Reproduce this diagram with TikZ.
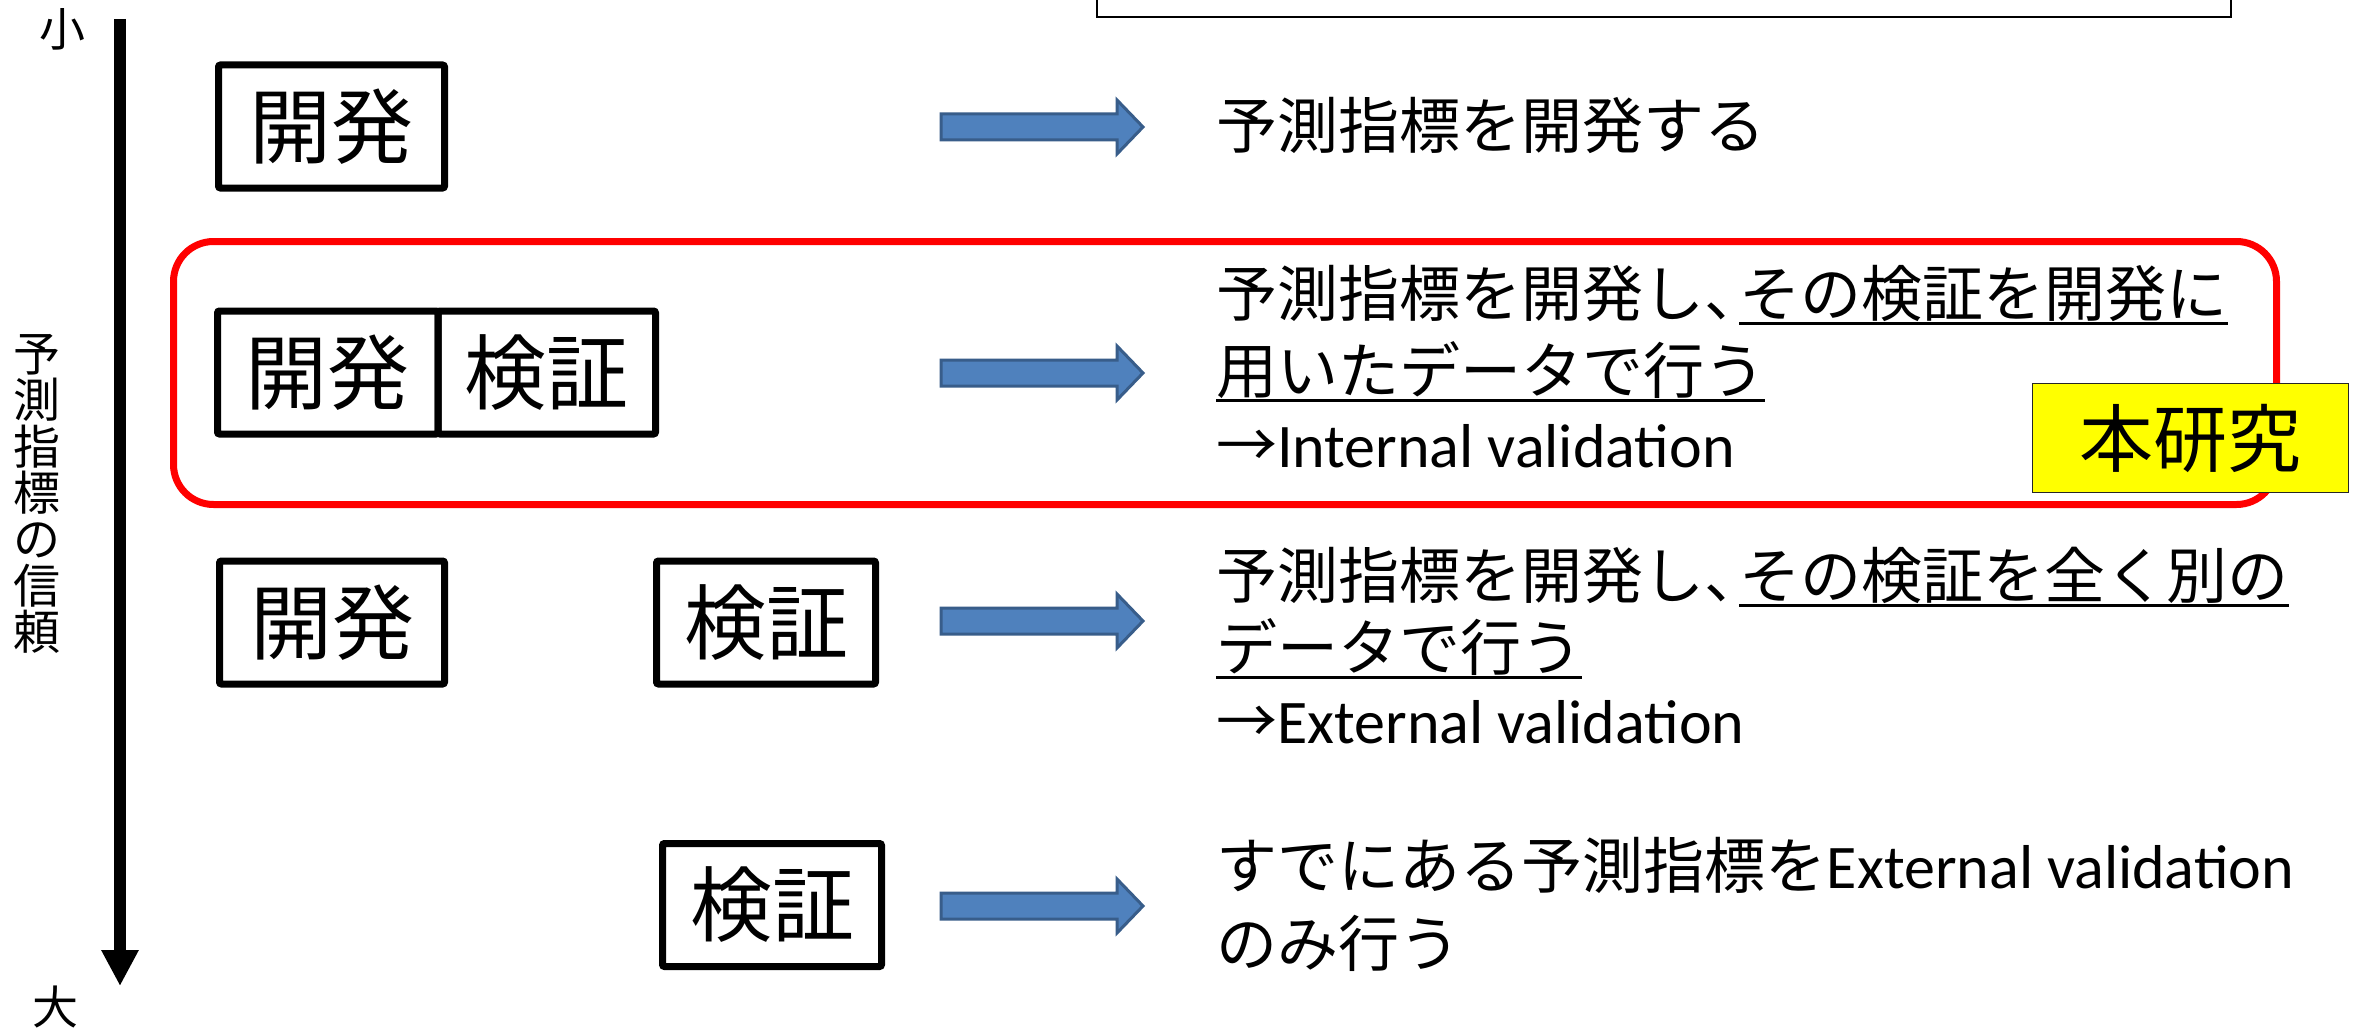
\documentclass[tikz,border=0pt]{standalone}
\usepackage{fontspec}
\setmainfont{Carlito}
\newfontfamily\jp{Noto Sans CJK JP}
\usetikzlibrary{arrows.meta}
\definecolor{arrowfill}{HTML}{4F81BD}
\definecolor{arrowline}{HTML}{385D8A}
\definecolor{redframe}{HTML}{FF0000}
\definecolor{hl}{HTML}{FFFF00}
\newcommand{\jpcomma}{、\kern-26pt}
\begin{document}
\begin{tikzpicture}[x=1pt,y=-1pt,
  stagebox/.style={draw=black, line width=7pt, rounded corners=2pt, inner sep=0pt,
    minimum height=123pt, font=\jp\fontsize{82}{90}\selectfont},
  desc/.style={inner sep=0pt, anchor=base west, font=\jp\fontsize{61}{72}\selectfont},
  latin/.style={inner sep=0pt, anchor=base west, font=\fontsize{62}{72}\selectfont},
  uline/.style={line width=3pt},
  axislabel/.style={inner sep=0pt, font=\jp\fontsize{46}{50}\selectfont},
  blockarrow/.pic={\filldraw[fill=arrowfill, draw=arrowline, line width=3pt, line join=miter]
    (0,-13) -- (176,-13) -- (176,-27) -- (202,0) -- (176,27) -- (176,13) -- (0,13) -- cycle;},
]
\useasboundingbox[fill=white] (0,0) rectangle (2359,1030);

% partial frame at top
\draw[line width=2.5pt] (1097,-20) rectangle (2231,17);

% axis
\coordinate (axtop) at (120,19);
\coordinate (axbot) at (120,986);
\draw[line width=12pt, -{Triangle[length=36pt,width=35pt]}] (axtop) -- (axbot);
\node[axislabel] (small) at (62,29) {小};
\node[axislabel] (large) at (55,1007) {大};
\node[inner sep=0pt, align=center, font=\jp\fontsize{47}{46.4}\selectfont] (ylab) at (37,494) {予\\測\\指\\標\\の\\信\\頼};

% red frame
\draw[draw=redframe, line width=7pt, rounded corners=40pt] (173.5,241.5) rectangle (2276.5,504.5);

% stage boxes
\node[stagebox, minimum width=226pt] (b1) at (331.5,126.5) {開発};
\node[stagebox, minimum width=220.5pt] (b2a) at (327.75,372.5) {開発};
\node[stagebox, minimum width=217.5pt] (b2b) at (546.75,372.5) {検証};
\node[stagebox, minimum width=225pt] (b3a) at (332,622.5) {開発};
\node[stagebox, minimum width=219pt] (b3b) at (766,622.5) {検証};
\node[stagebox, minimum width=219pt] (b4) at (772,905) {検証};

% block arrows
\pic at (941,127) {blockarrow};
\pic at (941,373) {blockarrow};
\pic at (941,621) {blockarrow};
\pic at (941,906) {blockarrow};

% row 1 text
\node[desc] (t1) at (1216,149) {予測指標を開発する};

% row 2 text
\node[desc] (t2a) at (1216,316) {予測指標を開発し\jpcomma};
\node[desc] (t2b) at (t2a.base east) {その検証を開発に};
\node[desc] (t2c) at (1216,393) {用いたデータで行う};
\node[latin] (t2d) at (1216,467) {{\jp\fontsize{61}{72}\selectfont →}Internal validation};
\draw[uline] ([yshift=-7pt]t2b.base west) -- ([yshift=-7pt]t2b.base east);
\draw[uline] ([yshift=-7pt]t2c.base west) -- ([yshift=-7pt]t2c.base east);

% row 3 text
\node[desc] (t3a) at (1216,598) {予測指標を開発し\jpcomma};
\node[desc] (t3b) at (t3a.base east) {その検証を全く別の};
\node[desc] (t3c) at (1216,670) {データで行う};
\node[latin] (t3d) at (1216,743) {{\jp\fontsize{61}{72}\selectfont →}External validation};
\draw[uline] ([yshift=-7pt]t3b.base west) -- ([yshift=-7pt]t3b.base east);
\draw[uline] ([yshift=-7pt]t3c.base west) -- ([yshift=-7pt]t3c.base east);

% row 4 text
\node[latin] (t4a) at (1216,888) {{\jp\fontsize{61}{72}\selectfont すでにある予測指標を}External validation};
\node[desc] (t4b) at (1216,966) {のみ行う};

% this study label
\node[draw=black!85, line width=1.5pt, fill=hl, minimum width=316pt, minimum height=109pt,
  inner sep=0pt, font=\jp\fontsize{74}{80}\selectfont] (hon) at (2190.5,438) {本研究};
\end{tikzpicture}
\end{document}
